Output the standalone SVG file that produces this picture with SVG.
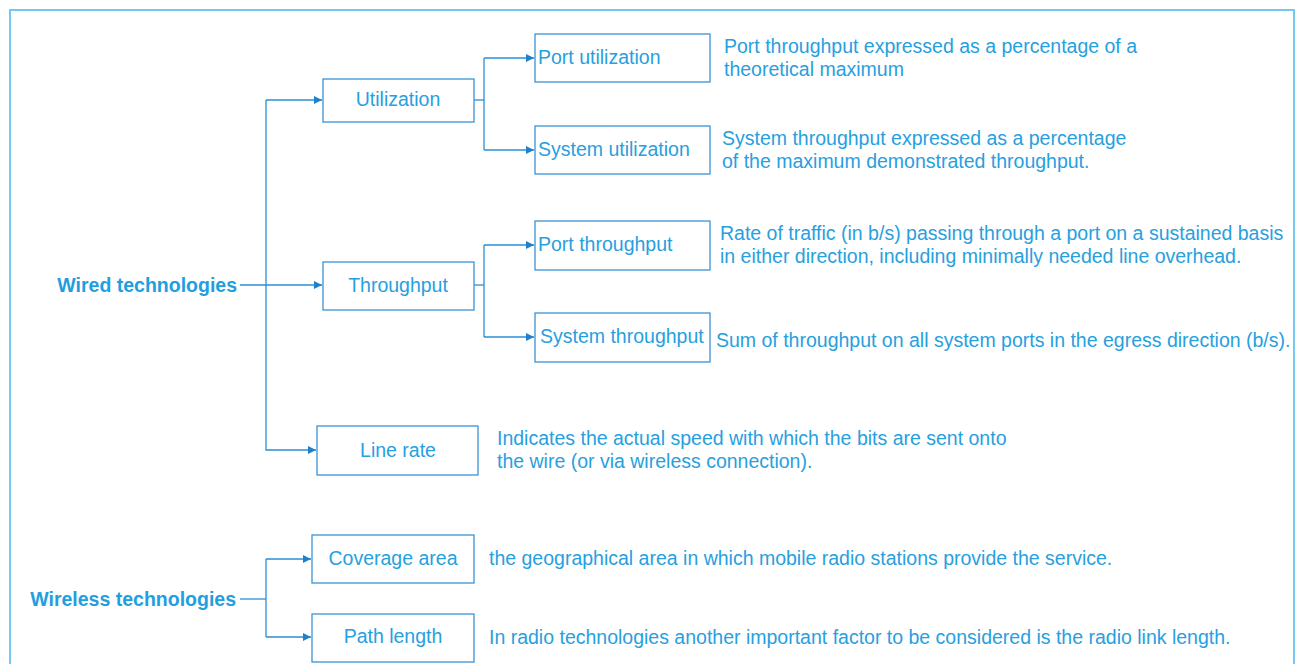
<svg xmlns="http://www.w3.org/2000/svg" width="1301" height="664" viewBox="0 0 1301 664">
<style>
.box{fill:#fff;stroke:#3a94d8;stroke-width:1.3}
.lbl{font-family:"Liberation Sans",Arial,sans-serif;font-size:19.5px;fill:#27a0e0}
.mid{text-anchor:middle}
.root{font-family:"Liberation Sans",Arial,sans-serif;font-size:19.5px;font-weight:bold;fill:#1f9ee0;text-anchor:end}
.ln{fill:none;stroke:#2a8fd6;stroke-width:1.3}
</style>
<defs>
<marker id="ah" viewBox="0 0 10 10" refX="10" refY="5" markerWidth="8" markerHeight="8" markerUnits="userSpaceOnUse" orient="auto">
<path d="M0,0 L10,5 L0,10 z" fill="#1f80cc"/>
</marker>
</defs>
<rect x="0" y="0" width="1301" height="664" fill="#fff"/>
<rect x="10" y="10" width="1284" height="670" fill="none" stroke="#74c8f2" stroke-width="2"/>

<g id="connectors">
<path class="ln" d="M240,285 H322" marker-end="url(#ah)"/>
<path class="ln" d="M266,100 V450 H316" marker-end="url(#ah)"/>
<path class="ln" d="M266,100 H322" marker-end="url(#ah)"/>
<path class="ln" d="M474,100 H484"/>
<path class="ln" d="M484,58 V150"/>
<path class="ln" d="M484,58 H534" marker-end="url(#ah)"/>
<path class="ln" d="M484,150 H534" marker-end="url(#ah)"/>
<path class="ln" d="M474,285 H484"/>
<path class="ln" d="M484,245 V337"/>
<path class="ln" d="M484,245 H534" marker-end="url(#ah)"/>
<path class="ln" d="M484,337 H534" marker-end="url(#ah)"/>
<path class="ln" d="M240,599 H266"/>
<path class="ln" d="M266,559 V637"/>
<path class="ln" d="M266,559 H311" marker-end="url(#ah)"/>
<path class="ln" d="M266,637 H311" marker-end="url(#ah)"/>
</g>

<g id="wired">
<text class="root" x="237" y="292">Wired technologies</text>
</g>
<g id="wireless">
<text class="root" x="236" y="606">Wireless technologies</text>
</g>

<g id="utilization">
<rect class="box" x="323" y="79" width="151" height="43"/>
<text class="lbl mid" x="398" y="106">Utilization</text>
</g>
<g id="port-utilization">
<rect class="box" x="535" y="34" width="175" height="48"/>
<text class="lbl" x="538" y="64">Port utilization</text>
<text class="lbl" x="724" y="53">Port throughput expressed as a percentage of a</text>
<text class="lbl" x="724" y="76">theoretical maximum</text>
</g>
<g id="system-utilization">
<rect class="box" x="535" y="126" width="175" height="48"/>
<text class="lbl" x="538" y="156">System utilization</text>
<text class="lbl" x="722" y="145">System throughput expressed as a percentage</text>
<text class="lbl" x="722" y="168">of the maximum demonstrated throughput.</text>
</g>
<g id="throughput">
<rect class="box" x="323" y="262" width="151" height="48"/>
<text class="lbl mid" x="398" y="292">Throughput</text>
</g>
<g id="port-throughput">
<rect class="box" x="535" y="221" width="175" height="49"/>
<text class="lbl" x="538" y="251">Port throughput</text>
<text class="lbl" x="720" y="240">Rate of traffic (in b/s) passing through a port on a sustained basis</text>
<text class="lbl" x="720" y="263">in either direction, including minimally needed line overhead.</text>
</g>
<g id="system-throughput">
<rect class="box" x="535" y="313" width="175" height="49"/>
<text class="lbl" x="540" y="343">System throughput</text>
<text class="lbl" x="716" y="347">Sum of throughput on all system ports in the egress direction (b/s).</text>
</g>
<g id="line-rate">
<rect class="box" x="317" y="426" width="161" height="49"/>
<text class="lbl mid" x="398" y="457">Line rate</text>
<text class="lbl" x="497" y="445">Indicates the actual speed with which the bits are sent onto</text>
<text class="lbl" x="497" y="468">the wire (or via wireless connection).</text>
</g>
<g id="coverage-area">
<rect class="box" x="312" y="535" width="162" height="48"/>
<text class="lbl mid" x="393" y="565">Coverage area</text>
<text class="lbl" x="489" y="565">the geographical area in which mobile radio stations provide the service.</text>
</g>
<g id="path-length">
<rect class="box" x="312" y="614" width="162" height="48"/>
<text class="lbl mid" x="393" y="643">Path length</text>
<text class="lbl" x="489" y="644">In radio technologies another important factor to be considered is the radio link length.</text>
</g>
</svg>
